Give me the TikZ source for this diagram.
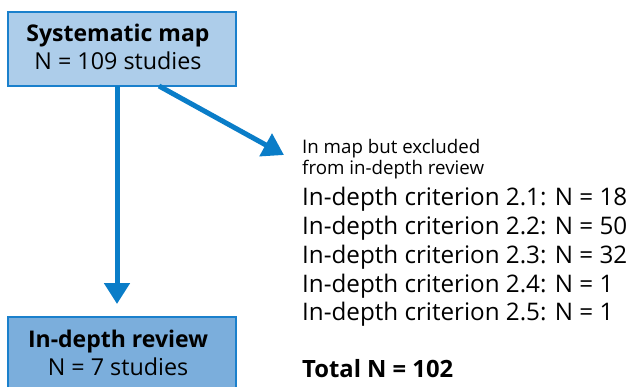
\documentclass[tikz,border=0pt]{standalone}
\usepackage{fontspec}
\setmainfont{Open Sans}
\usetikzlibrary{arrows.meta}
\definecolor{arrowblue}{HTML}{0A7DC8}
\definecolor{lightfill}{HTML}{ADCDEA}
\definecolor{darkfill}{HTML}{7BAEDC}
\definecolor{boxedge}{HTML}{1A80CC}
\tikzset{
  box/.style={draw=boxedge, line width=2pt, align=center, inner sep=0pt},
  boxtext/.style={anchor=base, inner sep=0pt, font=\fontsize{23.3}{26}\selectfont},
  boxhead/.style={anchor=base, inner sep=0pt, font=\fontsize{23}{26}\selectfont\bfseries},
  flow/.style={draw=arrowblue, line width=5pt, -{Triangle[width=25pt,length=21pt]}, arrowblue, shorten >=0pt},
  small/.style={anchor=base west, inner sep=0pt, font=\fontsize{18.7}{22}\selectfont},
  crit/.style={anchor=base west, inner sep=0pt, font=\fontsize{24.2}{28}\selectfont},
}
\begin{document}
\begin{tikzpicture}[x=1pt,y=-1pt]
\useasboundingbox (0,0) rectangle (631,387);
\fill[white] (0,0) rectangle (631,387);
% top box
\filldraw[box, fill=lightfill] (8,12) rectangle (236,86);
\node[boxhead] (t1) at (118,42) {Systematic map};
\node[boxtext] (t2) at (118,70) {N = 109 studies};
% bottom box
\filldraw[box, fill=darkfill] (8,317) rectangle (236,395);
\node[boxhead] (b1) at (118,347) {In-depth review};
\node[boxtext] (b2) at (118,375) {N = 7 studies};
% connectors
\coordinate (vstart) at (117,86);
\coordinate (vend) at (117,304);
\coordinate (dstart) at (159,86);
\coordinate (dend) at (284,155);
\draw[flow] (vstart) -- (vend);
\draw[flow] (dstart) -- (dend);
% text
\node[small] (s1) at (302,154) {In map but excluded};
\node[small] (s2) at (302,175) {from in-depth review};
\node[crit] (c1) at (302,206) {In-depth criterion 2.1: N = 18};
\node[crit] (c2) at (302,235) {In-depth criterion 2.2: N = 50};
\node[crit] (c3) at (302,263) {In-depth criterion 2.3: N = 32};
\node[crit] (c4) at (302,292) {In-depth criterion 2.4: N = 1};
\node[crit] (c5) at (302,320) {In-depth criterion 2.5: N = 1};
\node[crit, font=\fontsize{23.8}{28}\selectfont\bfseries] (tot) at (302,377) {Total N = 102};
\end{tikzpicture}
\end{document}
